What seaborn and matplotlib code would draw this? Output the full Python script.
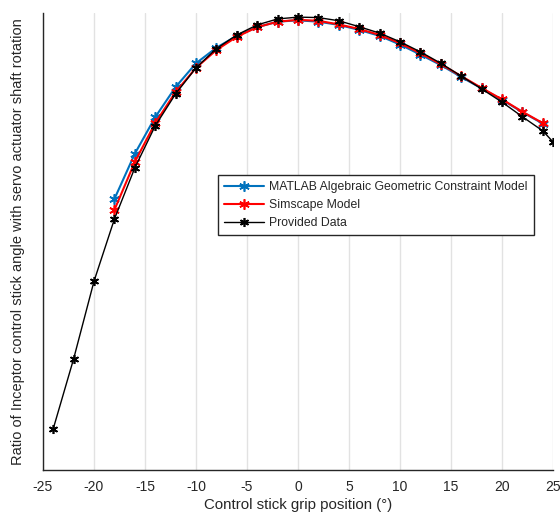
import matplotlib
matplotlib.use("Agg")
import matplotlib.pyplot as plt
import seaborn as sns
import pandas as pd

# Data (y in normalized units)
x_matlab = [-18, -16, -14, -12, -10, -8, -6, -4, -2, 0, 2, 4, 6, 8, 10, 12, 14, 16, 18, 20, 22, 24]
y_matlab = [0.593, 0.692, 0.772, 0.838, 0.890, 0.924, 0.950, 0.969, 0.981, 0.984, 0.981, 0.974,
            0.963, 0.950, 0.931, 0.909, 0.886, 0.860, 0.835, 0.810, 0.783, 0.758]

x_simscape = [-18, -16, -14, -12, -10, -8, -6, -4, -2, 0, 2, 4, 6, 8, 10, 12, 14, 16, 18, 20, 22, 24]
y_simscape = [0.569, 0.674, 0.759, 0.827, 0.880, 0.919, 0.948, 0.969, 0.981, 0.985, 0.983, 0.975,
              0.965, 0.952, 0.934, 0.912, 0.888, 0.862, 0.836, 0.811, 0.784, 0.759]

x_provided = [-24, -22, -20, -18, -16, -14, -12, -10, -8, -6, -4, -2, 0, 2, 4, 6, 8, 10, 12, 14,
              16, 18, 20, 22, 24, 25]
y_provided = [0.090, 0.243, 0.413, 0.549, 0.661, 0.753, 0.823, 0.880, 0.922, 0.952, 0.974, 0.987,
              0.991, 0.990, 0.983, 0.970, 0.956, 0.937, 0.915, 0.890, 0.862, 0.834, 0.805, 0.773,
              0.742, 0.718]

labels = ["MATLAB Algebraic Geometric Constraint Model", "Simscape Model", "Provided Data"]
x_ticks = [-25, -20, -15, -10, -5, 0, 5, 10, 15, 20, 25]

sns.set_style("white")
plt.rcParams['font.family'] = ['Liberation Sans', 'DejaVu Sans']

fig = plt.figure(figsize=(5.6, 5.12), dpi=100)
ax = fig.add_axes([43/560, 42/512, 510/560, 457/512])

ast = (6, 2, 0)
series = [
    (x_matlab, y_matlab, "#0072BD", 1.5, 7.5, labels[0]),
    (x_simscape, y_simscape, "#FF0000", 1.5, 7.5, labels[1]),
    (x_provided, y_provided, "#000000", 1.0, 6.5, labels[2]),
]
for xs, ys, c, lw, ms, lab in series:
    df = pd.DataFrame({"x": xs, "y": ys})
    sns.lineplot(data=df, x="x", y="y", ax=ax, color=c, linewidth=lw, marker=ast,
                 markersize=ms, markeredgecolor=c, markeredgewidth=1.2, label=lab)

ax.set_xlim(-25, 25)
ax.set_ylim(0, 1)
ax.set_xticks(x_ticks)
ax.set_xticklabels([str(t) for t in x_ticks], fontsize=10, color="#262626")
ax.set_yticks([])
ax.grid(axis="x", color="#e2e2e2", linewidth=1)
ax.grid(axis="y", visible=False)
ax.tick_params(axis="x", direction="in", length=4, width=1, color="#262626", pad=7)
for s in ["top", "right"]:
    ax.spines[s].set_visible(False)
for s in ["left", "bottom"]:
    ax.spines[s].set_color("#262626")
    ax.spines[s].set_linewidth(1)

ax.set_xlabel("Control stick grip position (°)", fontsize=10.8, color="#262626", labelpad=3)
ax.set_ylabel("Ratio of Inceptor control stick angle with servo actuator shaft rotation",
              fontsize=10.5, color="#262626", labelpad=13)

leg = ax.legend(loc="upper left", bbox_to_anchor=(0.343, 0.6455), borderaxespad=0,
                fontsize=8.8, frameon=True, fancybox=False, edgecolor="#262626",
                framealpha=1, handlelength=3.3, handletextpad=0.4, borderpad=0.5,
                labelspacing=0.5)
leg.get_frame().set_linewidth(1)

fig.savefig("out.png", dpi=100)
